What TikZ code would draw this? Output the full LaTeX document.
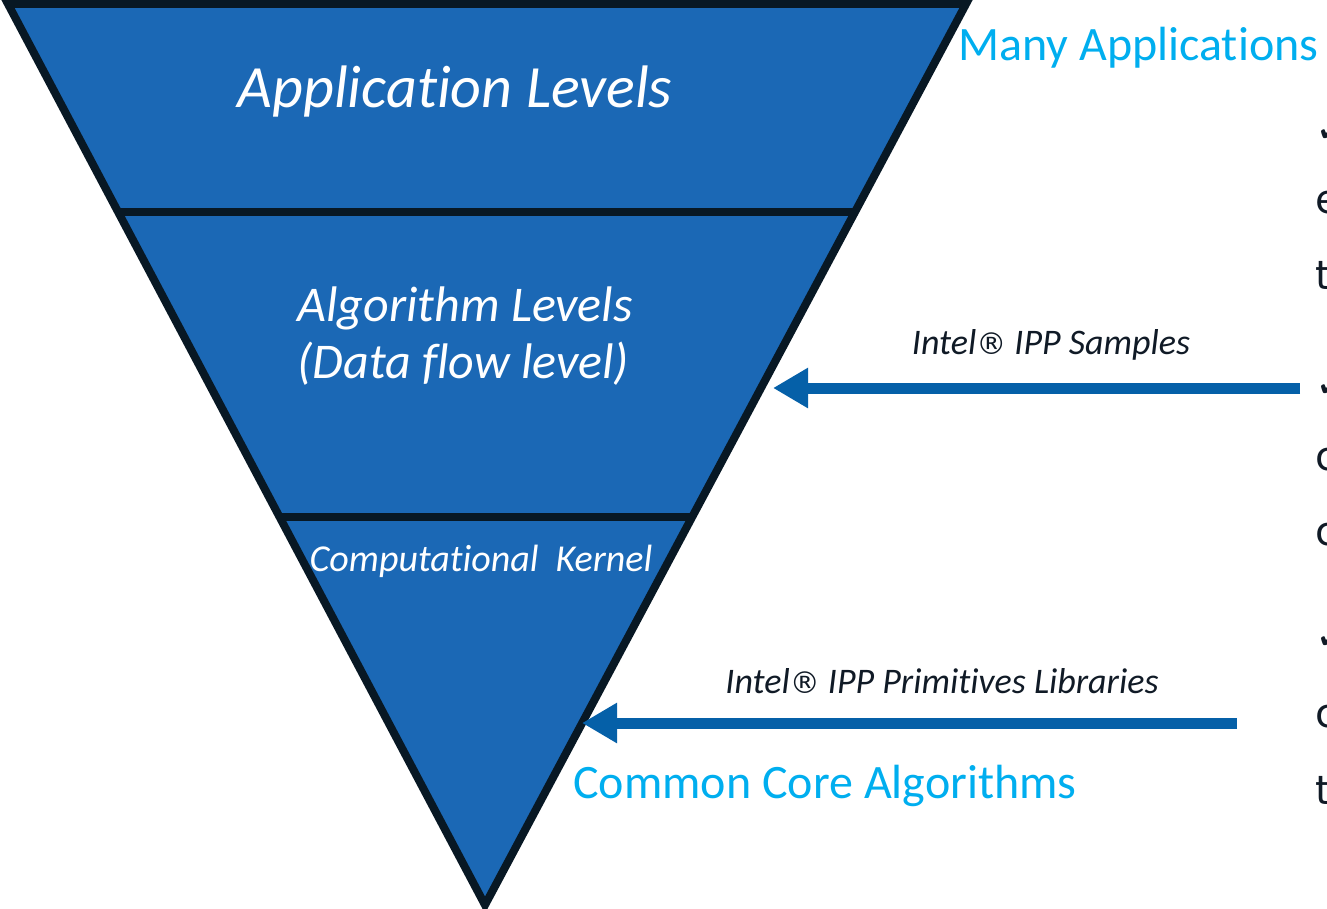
\documentclass[tikz,border=0pt]{standalone}
\usepackage{fontspec}
\setmainfont{Carlito}[Ligatures=NoCommon]
\newfontfamily\sidefont{DejaVu Sans}
\usetikzlibrary{calc, arrows.meta}

\definecolor{levelblue}{RGB}{27,104,181}
\definecolor{edgedark}{RGB}{8,24,36}
\definecolor{arrowblue}{RGB}{5,96,168}
\definecolor{titlecyan}{RGB}{0,174,239}
\definecolor{labeldark}{RGB}{16,26,38}

\newcommand{\regmark}{{\sidefont\fontsize{15pt}{18pt}\selectfont ®}}

\tikzset{
  levelname/.style={text=white, inner sep=0pt, font=\itshape\fontsize{#1}{1.15\dimexpr#1\relax}\selectfont},
  titlename/.style={text=titlecyan, inner sep=0pt, font=\fontsize{24pt}{28pt}\selectfont},
  toolname/.style={text=labeldark, inner sep=0pt, font=\itshape\fontsize{18pt}{21pt}\selectfont},
  callarrow/.style={arrowblue, line width=5.5pt, -{Triangle[length=17.5pt,width=19pt]}},
  sidetext/.style={text=labeldark, inner sep=0pt, anchor=west, font=\sidefont\fontsize{20pt}{24pt}\selectfont}
}

\begin{document}
\begin{tikzpicture}[x=0.5pt, y=-0.5pt]
  \useasboundingbox (0,0) rectangle (1327,909);
  \clip (0,0) rectangle (1327,909);

  % the inverted pyramid
  \coordinate (tl) at (8,4);
  \coordinate (tr) at (966,4);
  \coordinate (apex) at (485,905);
  \draw[edgedark, line width=4pt, fill=levelblue] (tl) -- (tr) -- (apex) -- cycle;
  \draw[edgedark, line width=4pt] ($(tl)!0.231!(apex)$) coordinate (cut1l) -- ($(tr)!0.231!(apex)$) coordinate (cut1r);
  \draw[edgedark, line width=4pt] ($(tl)!0.569!(apex)$) coordinate (cut2l) -- ($(tr)!0.569!(apex)$) coordinate (cut2r);

  % level names
  \node[levelname=30pt] (app) at (455,92) {Application Levels};
  \node[levelname=25pt, align=left, anchor=west] (algo) at (297,336) {Algorithm Levels\\(Data flow level)};
  \node[levelname=19pt] (kernel) at (481,561) {Computational\ \ Kernel};

  % top and bottom titles
  \node[titlename, anchor=west] (many) at (958,48) {Many Applications};
  \node[titlename, anchor=west] (core) at (573,786) {Common Core Algorithms};

  % where the libraries come in
  \coordinate (samplesfrom) at (1300,388);
  \coordinate (samplesto) at (773,388);
  \coordinate (primsfrom) at (1237,723);
  \coordinate (primsto) at (582,723);
  \draw[callarrow] (samplesfrom) -- (samplesto);
  \draw[callarrow] (primsfrom) -- (primsto);
  \node[toolname] (samples) at (1051,345) {Intel\regmark\ IPP Samples};
  \node[toolname] (prims) at (942,681) {Intel\regmark\ IPP Primitives Libraries};

  % text cut off at the right border
  \node[sidetext] (side1) at (1315,130) {✓};
  \node[sidetext] (side2) at (1315,203) {e};
  \node[sidetext] (side3) at (1315,275) {t};
  \node[sidetext] (side4) at (1315,385) {✓};
  \node[sidetext] (side5) at (1315,460) {c};
  \node[sidetext] (side6) at (1315,535) {c};
  \node[sidetext] (side7) at (1315,637) {✓};
  \node[sidetext] (side8) at (1315,717) {c};
  \node[sidetext] (side9) at (1315,790) {t};
\end{tikzpicture}
\end{document}
